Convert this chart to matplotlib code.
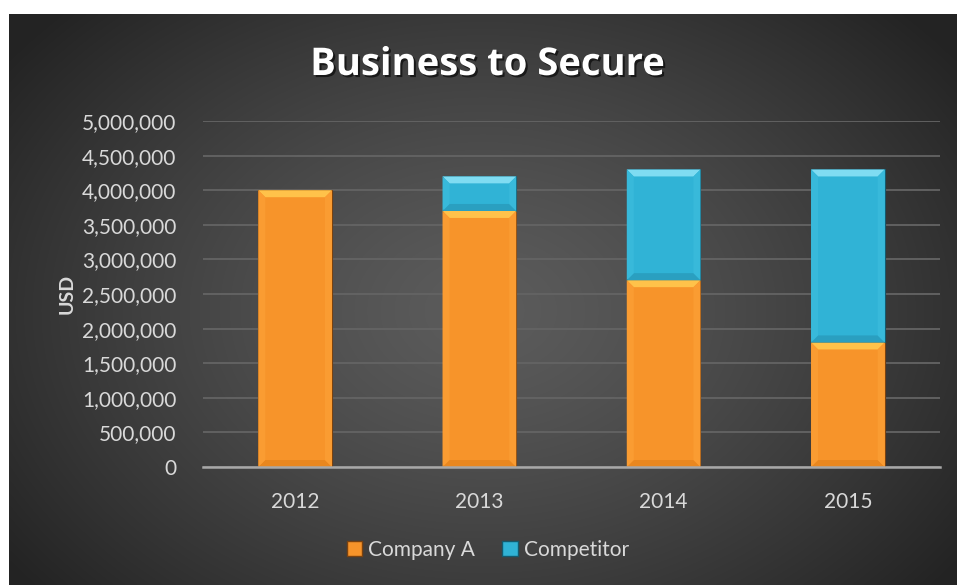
import matplotlib.pyplot as plt
import matplotlib.patheffects as pe
import numpy as np
from matplotlib.patches import Polygon, Patch
from matplotlib.ticker import FuncFormatter

years = ["2012", "2013", "2014", "2015"]
company_a = [4000000, 3700000, 2700000, 1800000]
competitor = [0, 500000, 1600000, 2500000]
series_names = ["Company A", "Competitor"]

# face, top bevel, side bevel, bottom bevel, outline
ORANGE = ("#f7942a", "#ffc24a", "#fa9c32", "#e9871f", "#7a4210")
BLUE = ("#30b3d6", "#7fdcf2", "#38b9da", "#2a9fc0", "#145a6e")

W, H = 957, 585
plt.rcParams["font.family"] = ["Lato", "DejaVu Sans"]

fig = plt.figure(figsize=(W / 100, H / 100), dpi=100, facecolor="white")

# dark radial backdrop of the chart panel
bg = fig.add_axes([9 / W, 0, 948 / W, 571 / H], zorder=0)
gx, gy = np.meshgrid(np.linspace(0, 1, 400), np.linspace(0, 1, 250))
r = np.sqrt(((gx - 0.5) / 0.62) ** 2 + ((gy - 0.52) / 0.75) ** 2)
t = np.clip(r, 0, 1) ** 1.3
shade = 0.36 * (1 - t) + 0.14 * t
bg.imshow(np.dstack([shade] * 3), aspect="auto", extent=[0, 1, 0, 1],
          interpolation="bicubic")
bg.set_axis_off()

ax = fig.add_axes([203 / W, (H - 467) / H, 737 / W, 346 / H], zorder=1)
ax.set_facecolor("none")
ax.set_xlim(-0.5, len(years) - 0.5)
ax.set_ylim(0, 5000000)

x = np.arange(len(years))
width = 0.40


def bevel_bar(xc, bottom, height, colors, b=7):
    if height <= 0:
        return
    face, top, side, low, edge = colors
    ax.bar(xc, height, width, bottom=bottom, color=face, edgecolor=edge,
           linewidth=0.8, zorder=3)
    to_px = ax.transData
    (x0, y0) = to_px.transform((xc - width / 2, bottom))
    (x1, y1) = to_px.transform((xc + width / 2, bottom + height))
    bb = min(b, (y1 - y0) / 2)
    shapes = [
        ([(x0, y1), (x1, y1), (x1 - bb, y1 - bb), (x0 + bb, y1 - bb)], top),
        ([(x0, y0), (x1, y0), (x1 - bb, y0 + bb), (x0 + bb, y0 + bb)], low),
        ([(x0, y0), (x0, y1), (x0 + bb, y1 - bb), (x0 + bb, y0 + bb)], side),
        ([(x1, y0), (x1, y1), (x1 - bb, y1 - bb), (x1 - bb, y0 + bb)], side),
    ]
    inv = to_px.inverted()
    for pts, c in shapes:
        ax.add_patch(Polygon(inv.transform(pts), closed=True, facecolor=c,
                             edgecolor="none", zorder=4))


for i in range(len(years)):
    bevel_bar(x[i], 0, company_a[i], ORANGE)
    bevel_bar(x[i], company_a[i], competitor[i], BLUE)

ax.yaxis.set_major_locator(plt.MultipleLocator(500000))
ax.yaxis.set_major_formatter(FuncFormatter(lambda v, p: f"{int(v):,}"))
ax.grid(axis="y", color="#646464", linewidth=1.3, zorder=0)
ax.set_axisbelow(True)
ax.set_xticks(x)
ax.set_xticklabels(years)
for s in ["top", "right", "left"]:
    ax.spines[s].set_visible(False)
ax.spines["bottom"].set_color("#a8a8a8")
ax.spines["bottom"].set_linewidth(1.8)
ax.spines["bottom"].set_zorder(5)
ax.tick_params(axis="y", length=0, pad=19, labelsize=15, labelcolor="#d9d9d9")
ax.tick_params(axis="x", length=0, pad=18, labelsize=15, labelcolor="#d9d9d9")

ax.set_ylabel("USD", fontsize=14, fontweight="bold", color="#d9d9d9",
              labelpad=5)

fig.text(488 / W, (H - 65) / H, "Business to Secure", ha="center",
         va="center", fontsize=27.5, fontweight="bold", color="white",
         family=["Open Sans", "DejaVu Sans"],
         path_effects=[pe.withSimplePatchShadow(offset=(1.5, -1.5),
                                                shadow_rgbFace="black",
                                                alpha=0.6)])

handles = [Patch(facecolor=ORANGE[0], edgecolor=ORANGE[4]),
           Patch(facecolor=BLUE[0], edgecolor=BLUE[4])]
fig.legend(handles, series_names, loc="center", ncol=2,
           bbox_to_anchor=(488 / W, (H - 550) / H), frameon=False,
           fontsize=15, labelcolor="#d9d9d9", handlelength=0.75,
           handleheight=0.75, handletextpad=0.3, columnspacing=1.3)

fig.savefig("out.png", dpi=100, facecolor="white")
